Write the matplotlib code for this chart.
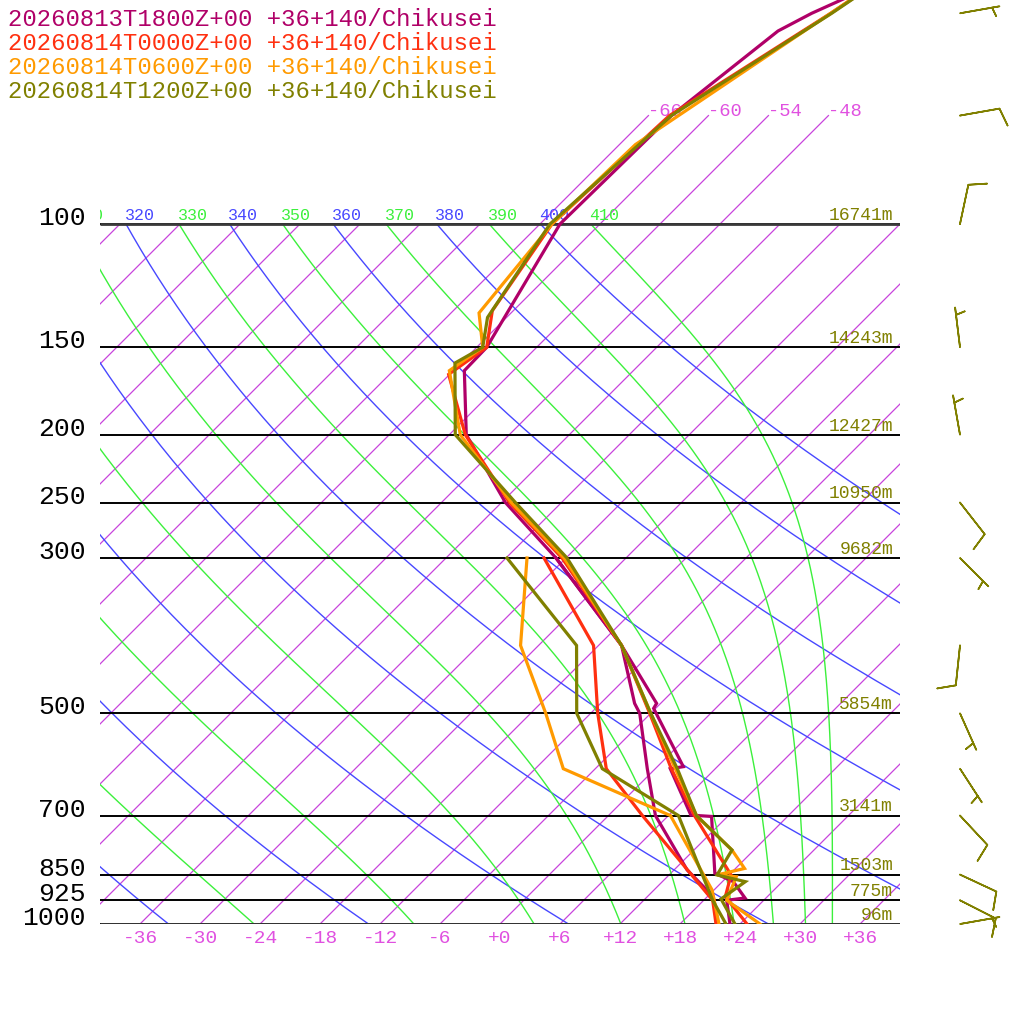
import numpy as np
import matplotlib
matplotlib.use("Agg")
import matplotlib.pyplot as plt
from matplotlib.transforms import Affine2D

plt.rcParams['font.family'] = ['Liberation Mono', 'DejaVu Sans Mono']

# ---------------- data ----------------
titles = ["20260813T1800Z+00 +36+140/Chikusei",
          "20260814T0000Z+00 +36+140/Chikusei",
          "20260814T0600Z+00 +36+140/Chikusei",
          "20260814T1200Z+00 +36+140/Chikusei"]
series_colors = ['#b00068', '#ff3010', '#ff9a00', '#808000']

# 2026-08-13 18Z (purple)
p1_T = [1000, 925, 918, 870, 846, 702, 699, 600, 596, 492, 484, 400, 300, 250, 200, 162, 150, 100, 70, 53, 50, 45, 30]
t1_T = [23.0, 20.3, 21.9, 19.1, 16.4, 10.4, 8.2, 1.5, 2.6, -6.2, -6.4, -15.7, -31.0, -41.6, -52.3, -58.9, -59.0, -64.0, -63.7, -61.5, -59.9, -56.0, -51.0]
p1_Td = [1000, 914, 837, 700, 600, 500, 484, 400, 300]
t1_Td = [21.8, 18.6, 13.3, 4.7, -0.8, -7.1, -8.6, -15.7, -31.0]

# 2026-08-14 00Z (red)
p2_T = [1000, 914, 851, 700, 600, 500, 400, 300, 250, 200, 164, 150, 133, 100, 70, 50, 30]
t2_T = [24.7, 19.8, 18.2, 8.6, 1.6, -6.1, -15.7, -30.4, -41.2, -52.4, -60.1, -59.0, -62.1, -64.8, -63.9, -58.0, -50.5]
p2_Td = [1000, 925, 850, 700, 600, 500, 400, 300]
t2_Td = [21.6, 18.9, 14.2, 3.4, -4.9, -11.3, -18.5, -32.2]

# 2026-08-14 06Z (orange)
p3_T = [1000, 925, 856, 851, 833, 784, 700, 600, 500, 400, 300, 250, 200, 162, 150, 134, 100, 77, 50, 30]
t3_T = [26.0, 20.3, 18.9, 16.8, 18.9, 15.8, 8.8, 2.0, -6.0, -15.7, -30.2, -41.0, -52.9, -60.4, -59.4, -63.2, -64.8, -64.4, -58.0, -50.5]
p3_Td = [1000, 894, 700, 600, 500, 400, 300]
t3_Td = [21.9, 17.8, 6.2, -9.2, -16.5, -25.8, -33.9]

# 2026-08-14 12Z (olive)
p4_T = [1000, 921, 870, 851, 784, 700, 600, 500, 400, 300, 250, 200, 158, 150, 136, 100, 70, 50, 30]
t4_T = [23.5, 19.6, 20.3, 16.8, 15.8, 8.8, 2.2, -6.0, -15.7, -29.9, -40.6, -53.4, -60.6, -59.4, -61.9, -65.0, -63.7, -57.9, -50.5]
p4_Td = [1000, 925, 700, 600, 500, 400, 300]
t4_Td = [22.6, 18.9, 7.0, -5.3, -13.4, -20.2, -35.9]

# wind of the last sounding
wind_p = [1000, 925, 850, 700, 600, 500, 400, 300, 250, 200, 150, 100, 70, 50]
wind_dir = [80, 117, 115, 137, 147, 156, 186, 135, 142, 350, 353, 12, 80, 80]
wind_spd = [5, 10, 10, 10, 5, 5, 10, 5, 10, 5, 5, 10, 10, 5]

label_levels = [100, 150, 200, 250, 300, 500, 700, 850, 925, 1000]
height_labels = ['16741m', '14243m', '12427m', '10950m', '9682m',
                 '5854m', '3141m', '1503m', '775m', '96m']
temp_ticks = [-36, -30, -24, -18, -12, -6, 0, 6, 12, 18, 24, 30, 36]
isotherm_top_labels = [-66, -60, -54, -48]
dry_thetas = [240, 260, 280, 300, 320, 340, 360, 380, 400]
moist_thetas = [250, 270, 290, 310, 330, 350, 370, 390, 410]

# ---------------- figure ----------------
fig = plt.figure(figsize=(10.24, 10.24), dpi=100)
ax = fig.add_axes([100 / 1024, 100 / 1024, 800 / 1024, 924 / 1024])
ax.set_autoscale_on(False)
ax.set_yscale('log')
p_top = 1000 * 10 ** (-924 / 700)
ax.set_xlim(-40, 40)
ax.set_ylim(1000, p_top)
ax.axis('off')

y0 = 100.0  # display y of 1000 hPa
skew = ax.transData + Affine2D().translate(0, -y0).skew_deg(45, 0).translate(0, y0)

iso_col = '#c844dc'
iso_lab = '#e050e0'
dry_col = '#4848ff'
moist_col = '#3cf03c'

# isotherms
for T in range(-120, 37, 6):
    top = 70 if T in isotherm_top_labels else 100
    ax.plot([T, T], [1000, top], transform=skew, color=iso_col, lw=0.9, zorder=1)
for T in isotherm_top_labels:
    ax.annotate(f'{T}', (T, 70), xycoords=skew, xytext=(0, 0), textcoords='offset points',
                ha='left', va='baseline', color=iso_lab, fontsize=13.5, annotation_clip=False)

pp = np.logspace(3, 2, 300)
skew_at_100 = 70.0  # skew offset (deg) of the 100 hPa level relative to 1000 hPa

# dry adiabats
for th in dry_thetas:
    T = th * (pp / 1000.0) ** 0.2857 - 273.15
    ax.plot(T, pp, transform=skew, color=dry_col, lw=1.0, zorder=1)
    if T[-1] + skew_at_100 > -44:
        ax.annotate(str(th), (T[-1], 100), xycoords=skew, xytext=(-1, 3),
                    textcoords='offset points', ha='left', va='baseline', color=dry_col,
                    fontsize=12, clip_on=True, annotation_clip=False)


def theta_e(Tk, p):
    Tc = Tk - 273.15
    es = 6.112 * np.exp(17.67 * Tc / (Tc + 243.5))
    r = np.where(es < 0.8 * p, 0.622 * es / np.maximum(p - es, 1e-6), 5.0)
    rg = r * 1000.0
    with np.errstate(over='ignore'):
        return Tk * (1000.0 / p) ** (0.2854 * (1 - 0.28e-3 * rg)) * \
            np.exp(np.minimum((3.376 / Tk - 0.00254) * rg * (1 + 0.81e-3 * rg), 50))


for the in moist_thetas:
    lo = np.full_like(pp, 150.0)
    hi = np.full_like(pp, 320.0)
    for _ in range(60):
        mid = 0.5 * (lo + hi)
        f = theta_e(mid, pp) > the
        hi = np.where(f, mid, hi)
        lo = np.where(f, lo, mid)
    T = 0.5 * (lo + hi) - 273.15
    ax.plot(T, pp, transform=skew, color=moist_col, lw=1.0, zorder=1)
    if T[-1] + skew_at_100 > -44:
        ax.annotate(str(the), (T[-1], 100), xycoords=skew, xytext=(-1, 3),
                    textcoords='offset points', ha='left', va='baseline', color=moist_col,
                    fontsize=12, clip_on=True, annotation_clip=False)

# pressure lines
ax.hlines(label_levels, -40, 40, colors='black', lw=1.4, zorder=2)
ax.hlines([100, 1000], -40, 40, colors='#3a3a3a', lw=2.0, zorder=2)

# soundings
series = [(p1_T, t1_T, p1_Td, t1_Td), (p2_T, t2_T, p2_Td, t2_Td),
          (p3_T, t3_T, p3_Td, t3_Td), (p4_T, t4_T, p4_Td, t4_Td)]
for (pT, tT, pD, tD), c in zip(series, series_colors):
    ax.plot(tD, pD, transform=skew, color=c, lw=2.3, zorder=3, solid_joinstyle='miter')
    ax.plot(tT, pT, transform=skew, color=c, lw=2.3, zorder=3, solid_joinstyle='miter')

# labels
for p, h in zip(label_levels, height_labels):
    ax.annotate(str(p), (-40, p), xycoords='data', xytext=(-10, -0.7), textcoords='offset points',
                ha='right', va='baseline', fontsize=19, color='black', annotation_clip=False)
    ax.annotate(h, (40, p), xycoords='data', xytext=(-5, 3), textcoords='offset points',
                ha='right', va='baseline', fontsize=13, color='#808000', annotation_clip=False)

for T in temp_ticks:
    ax.annotate(f'{T:+d}', (T, 1000), xycoords=skew, xytext=(0, -4), textcoords='offset points',
                ha='center', va='top', fontsize=14, color=iso_lab, annotation_clip=False)

# wind barbs
wd = np.deg2rad(np.array(wind_dir, dtype=float))
ws = np.array(wind_spd, dtype=float)
u = -ws * np.sin(wd)
v = -ws * np.cos(wd)
ax.barbs(np.full(len(wind_p), 46.0), wind_p, u, v, length=7.6, pivot='tip',
         color='#808000', linewidth=1.2, clip_on=False, sizes=dict(height=0.45),
         zorder=4)

# titles
for i, (t, c) in enumerate(zip(titles, series_colors)):
    fig.text(8 / 1024, 1 - (26 + 24 * i) / 1024, t, color=c, fontsize=17.2,
             ha='left', va='baseline')

fig.savefig('out.png', dpi=100, facecolor='white')
